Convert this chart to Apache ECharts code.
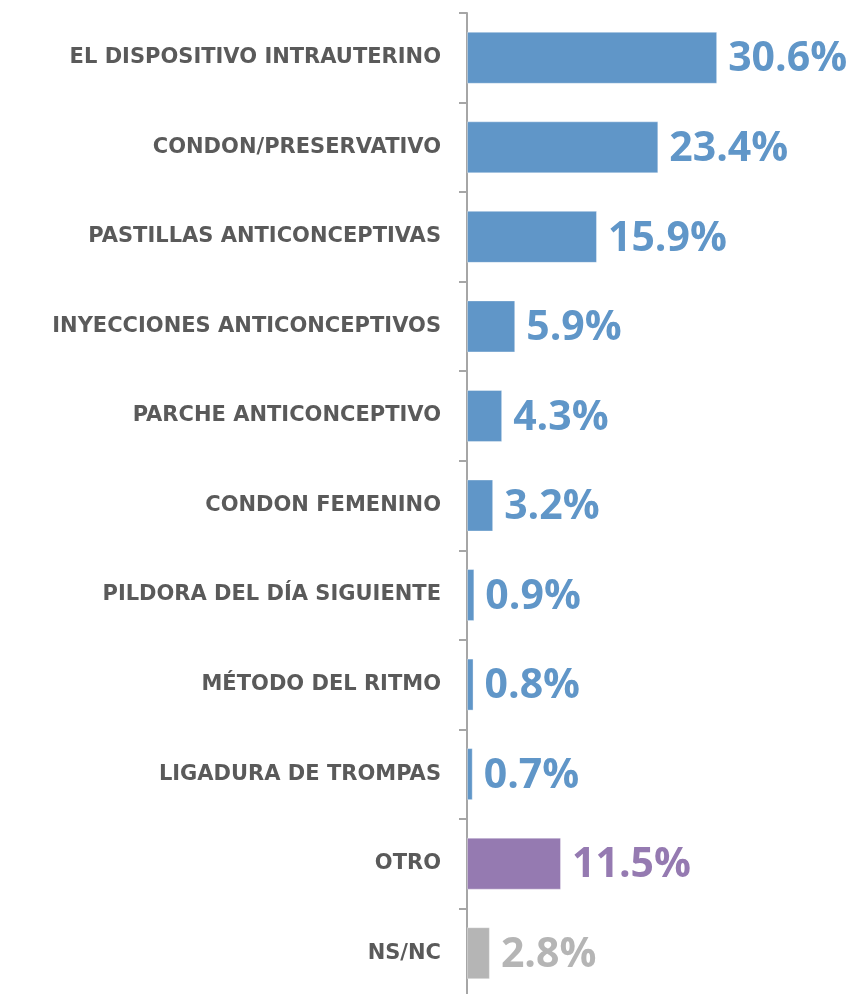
<!DOCTYPE html>
<html>
<head>
<meta charset="utf-8">
<script src="https://cdn.jsdelivr.net/npm/echarts@6/dist/echarts.min.js"></script>
<style>
  html, body { margin: 0; padding: 0; background: #fff; }
  #chart { width: 853px; height: 994px; }
</style>
</head>
<body>
<div id="chart"></div>
<script>
// categories, top to bottom
var categories = [
    'EL DISPOSITIVO INTRAUTERINO',
    'CONDON/PRESERVATIVO',
    'PASTILLAS ANTICONCEPTIVAS',
    'INYECCIONES ANTICONCEPTIVOS',
    'PARCHE ANTICONCEPTIVO',
    'CONDON FEMENINO',
    'PILDORA DEL DÍA SIGUIENTE',
    'MÉTODO DEL RITMO',
    'LIGADURA DE TROMPAS',
    'OTRO',
    'NS/NC'
];
var values = [30.6, 23.4, 15.9, 5.9, 4.3, 3.2, 0.9, 0.8, 0.7, 11.5, 2.8];
var barColors = ['#6096c8', '#6096c8', '#6096c8', '#6096c8', '#6096c8', '#6096c8',
                 '#6096c8', '#6096c8', '#6096c8', '#957ab1', '#b5b5b5'];

var myChart = echarts.init(document.getElementById('chart'));

var data = values.map(function (v, i) {
    return {
        value: v,
        itemStyle: { color: barColors[i] },
        label: { color: barColors[i] }
    };
});

var option = {
    animation: false,
    grid: {
        left: 467,
        top: 13,
        width: 327,
        height: 985,
        containLabel: false,
        outerBoundsMode: 'none'
    },
    xAxis: {
        type: 'value',
        min: 0,
        max: 40,
        show: false
    },
    yAxis: {
        type: 'category',
        inverse: true,
        data: categories,
        axisLine: { show: true, lineStyle: { color: '#a6a6a6', width: 2 } },
        axisTick: { show: true, length: 8, lineStyle: { color: '#a6a6a6', width: 2 } },
        axisLabel: {
            margin: 26,
            color: '#5a5a5a',
            fontFamily: 'DejaVu Sans',
            fontWeight: 'bold',
            fontSize: 21
        }
    },
    series: [{
        type: 'bar',
        data: data,
        barWidth: 52,
        itemStyle: { borderColor: 'rgba(255,255,255,0.35)', borderWidth: 1 },
        label: {
            show: true,
            position: 'right',
            distance: 11,
            offset: [0, 2],
            fontFamily: 'Open Sans',
            fontWeight: 'bold',
            fontSize: 41,
            formatter: function (p) { return p.value.toFixed(1) + '%'; }
        }
    }]
};

myChart.setOption(option, true);
</script>
</body>
</html>
